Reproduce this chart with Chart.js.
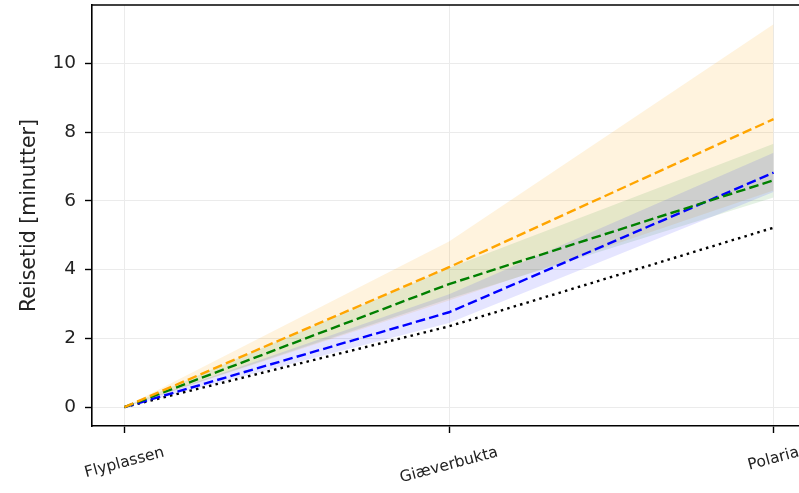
<!DOCTYPE html>
<html>
<head>
<meta charset="utf-8">
<script src="https://cdn.jsdelivr.net/npm/chart.js@4.4.1/dist/chart.umd.min.js"></script>
<style>
    html, body { margin: 0; padding: 0; background: #fff; overflow: hidden; }
    canvas { display: block; }
</style>
</head>
<body>
<canvas id="travelChart" width="810" height="493" style="width:810px;height:493px"></canvas>
<script>
// Stops along the route and travel time (minutes) for each scenario
const stops = ['Flyplassen', 'Giæverbukta', 'Polaria'];
const yTicks = [0, 2, 4, 6, 8, 10];

const baseline = [0, 2.35, 5.22];

const blueMean = [0, 2.76, 6.82];
const blueLow = [0, 2.45, 6.26];
const blueHigh = [0, 3.28, 7.40];

const greenMean = [0, 3.58, 6.60];
const greenLow = [0, 3.15, 6.10];
const greenHigh = [0, 4.05, 7.66];

const orangeMean = [0, 4.07, 8.38];
const orangeLow = [0, 3.10, 6.30];
const orangeHigh = [0, 4.82, 11.14];

const FONT = '"DejaVu Sans", Verdana, sans-serif';
const TEXT = '#222';

function pts(values) {
    return values.map((v, i) => ({ x: i, y: v }));
}

function line(values, color, dash) {
    return {
        data: pts(values),
        borderColor: color,
        borderWidth: 2.4,
        borderDash: dash,
        borderCapStyle: 'butt',
        pointRadius: 0,
        fill: false,
        tension: 0
    };
}

function band(low, high, color) {
    return [
        { data: pts(low), borderWidth: 0, pointRadius: 0, fill: false, tension: 0 },
        { data: pts(high), borderWidth: 0, pointRadius: 0, fill: '-1', backgroundColor: color, tension: 0 }
    ];
}

// x labels are centred under the tick and tilted, drawn by hand
const tiltedLabels = {
    id: 'tiltedLabels',
    afterDraw(chart) {
        const ctx = chart.ctx;
        const xs = chart.scales.x;
        const size = 15.5;
        const ang = 15 * Math.PI / 180;
        ctx.save();
        ctx.font = size + 'px ' + FONT;
        ctx.fillStyle = TEXT;
        ctx.textAlign = 'center';
        ctx.textBaseline = 'middle';
        stops.forEach((label, i) => {
            const x = xs.getPixelForValue(i);
            const w = ctx.measureText(label).width;
            const h = w * Math.sin(ang) + 0.97 * size * Math.cos(ang);
            const y = chart.chartArea.bottom + 19 + h / 2;
            ctx.save();
            ctx.translate(x, y);
            ctx.rotate(-ang);
            ctx.fillText(label, 0, 0);
            ctx.restore();
        });
        // top spine
        const a = chart.chartArea;
        ctx.strokeStyle = '#000';
        ctx.lineWidth = 1.6;
        ctx.beginPath();
        ctx.moveTo(a.left, a.top);
        ctx.lineTo(a.right, a.top);
        ctx.stroke();
        ctx.restore();
    }
};

const ctx = document.getElementById('travelChart').getContext('2d');
const travelChart = new Chart(ctx, {
    type: 'line',
    data: {
        datasets: [
            line(orangeMean, '#ffa500', [9.6, 4.2]),
            line(greenMean, '#008000', [9.6, 4.2]),
            line(blueMean, '#0000ff', [9.6, 4.2]),
            line(baseline, '#000000', [2.5, 4.2]),
            ...band(blueLow, blueHigh, 'rgba(0, 0, 255, 0.1)'),
            ...band(greenLow, greenHigh, 'rgba(0, 128, 0, 0.1)'),
            ...band(orangeLow, orangeHigh, 'rgba(255, 165, 0, 0.13)')
        ]
    },
    options: {
        responsive: false,
        animation: false,
        devicePixelRatio: 1,
        layout: { padding: { top: 5, right: 4, left: 0, bottom: 0 } },
        plugins: {
            legend: { display: false },
            tooltip: { enabled: false },
            filler: { drawTime: 'beforeDatasetsDraw' }
        },
        scales: {
            x: {
                type: 'linear',
                min: -0.1,
                max: 2.1,
                afterBuildTicks: s => { s.ticks = stops.map((_, i) => ({ value: i })); },
                afterFit: s => { s.height = 67; s.paddingLeft = 0; s.paddingRight = 0; },
                ticks: { display: false },
                grid: { color: '#ebebeb', lineWidth: 1, tickColor: '#000', tickLength: 7, tickWidth: 1.4 },
                border: { color: '#000', width: 1.6 }
            },
            y: {
                min: -0.55,
                max: 11.7,
                afterBuildTicks: s => { s.ticks = yTicks.map(v => ({ value: v })); },
                afterFit: s => { s.width = 92; s.paddingTop = 0; s.paddingBottom = 0; },
                ticks: {
                    color: TEXT,
                    padding: 9,
                    font: { family: FONT, size: 18.5 }
                },
                grid: { color: '#ebebeb', lineWidth: 1, tickColor: '#000', tickLength: 7, tickWidth: 1.4 },
                border: { color: '#000', width: 1.6 },
                title: {
                    display: true,
                    text: 'Reisetid [minutter]',
                    color: TEXT,
                    font: { family: FONT, size: 20.5 },
                    padding: { top: 17, bottom: 0 }
                }
            }
        }
    },
    plugins: [tiltedLabels]
});
</script>
</body>
</html>
